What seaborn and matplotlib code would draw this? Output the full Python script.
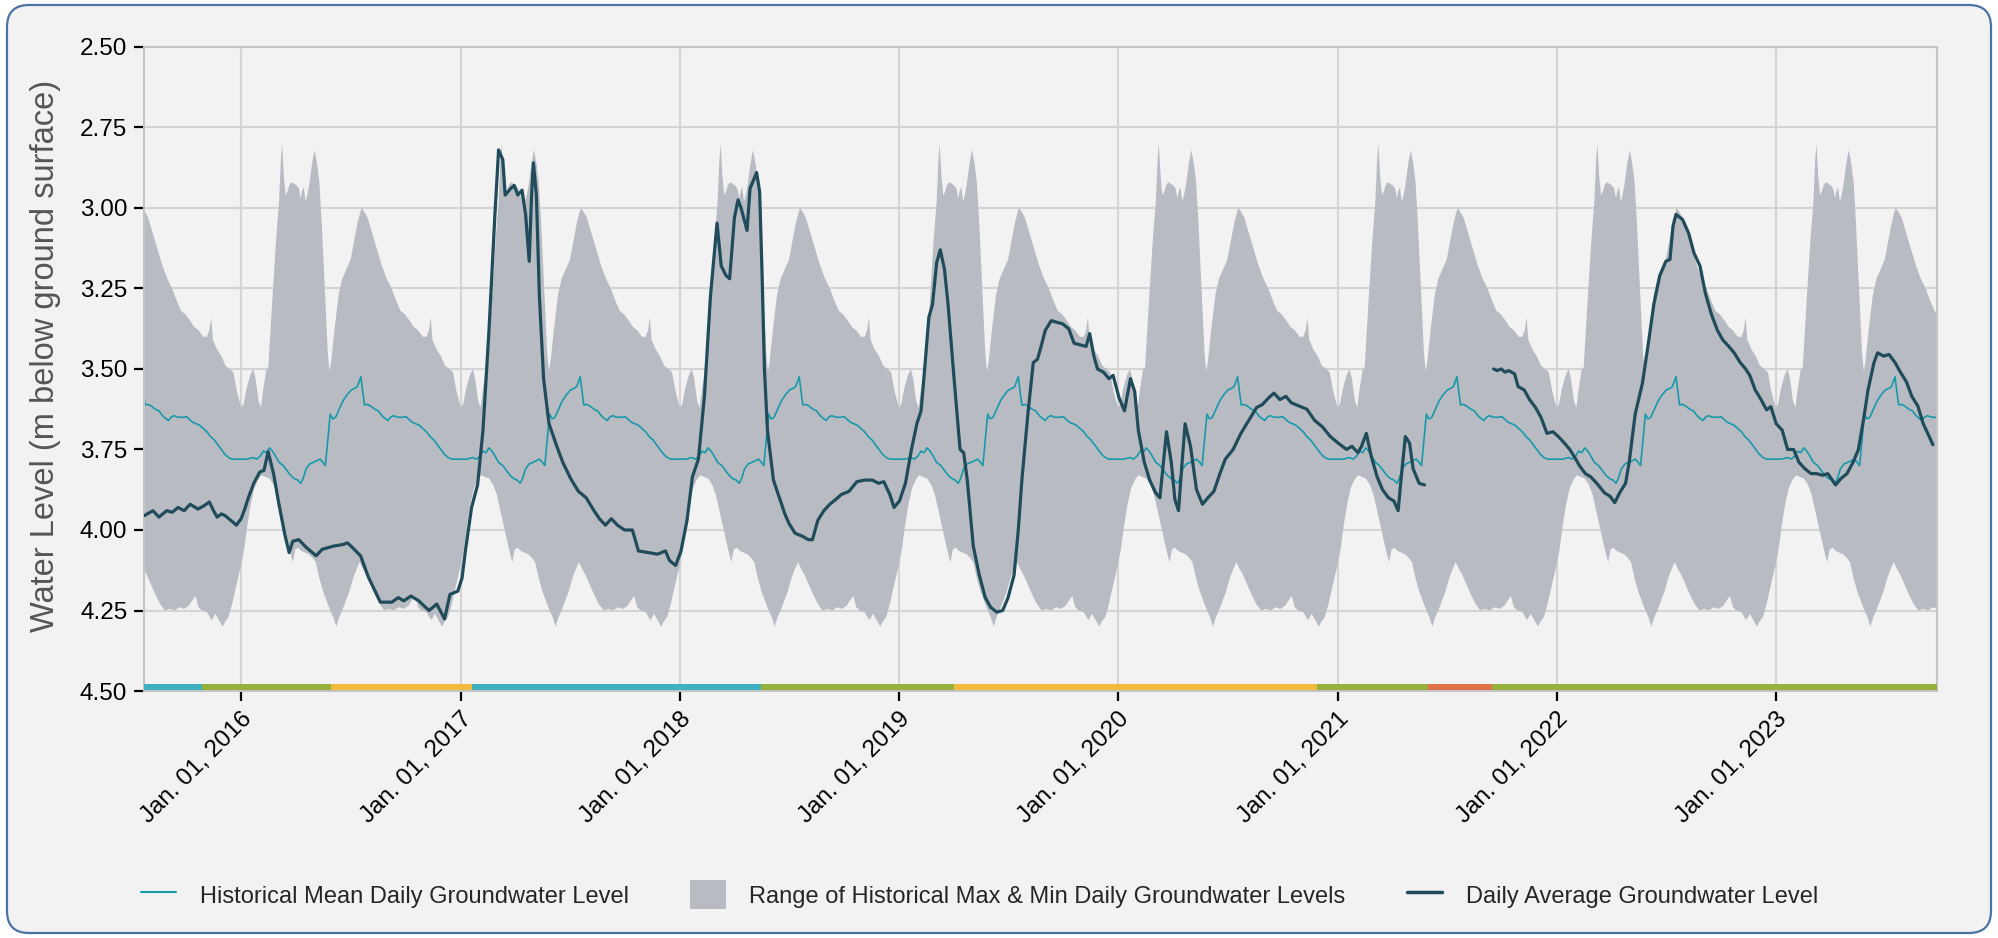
import numpy as np
import pandas as pd
import matplotlib
matplotlib.use("Agg")
import matplotlib.pyplot as plt
import matplotlib.dates as mdates
from matplotlib.patches import FancyBboxPatch, Patch
from matplotlib.lines import Line2D
import seaborn as sns

# historical statistics by day of year (repeated every year)
band_top_doy = [0, 4, 9, 15, 20, 24, 29, 33, 37, 42, 45, 52, 58, 63, 66, 68, 71, 74, 77, 80, 84, 88,
                92, 96, 99, 101, 104, 107, 110, 113, 118, 122, 126, 130, 134, 139, 144, 147, 150, 155,
                162, 168, 175, 182, 188, 193, 197, 200, 204, 210, 218, 226, 234, 242, 250, 258, 265,
                272, 280, 287, 294, 302, 308, 312, 315, 318, 325, 332, 339, 346, 352, 358, 365]
band_top = [3.62, 3.61, 3.56, 3.52, 3.50, 3.53, 3.60, 3.62, 3.56, 3.50, 3.50, 3.28, 3.10, 2.98, 2.85,
            2.80, 2.90, 2.96, 2.95, 2.93, 2.92, 2.925, 2.93, 2.94, 2.97, 2.95, 2.935, 2.98, 2.96, 2.93,
            2.86, 2.82, 2.86, 2.92, 3.05, 3.25, 3.45, 3.51, 3.47, 3.38, 3.27, 3.22, 3.19, 3.16, 3.10,
            3.05, 3.02, 3.00, 3.01, 3.03, 3.08, 3.13, 3.18, 3.22, 3.25, 3.29, 3.32, 3.33, 3.35, 3.37,
            3.38, 3.40, 3.40, 3.38, 3.34, 3.41, 3.44, 3.46, 3.49, 3.50, 3.51, 3.57, 3.62]
band_bottom_doy = [0, 5, 10, 16, 22, 28, 34, 40, 47, 54, 60, 66, 72, 78, 83, 86, 90, 95, 100, 106, 112,
                   118, 124, 130, 136, 142, 148, 153, 158, 163, 168, 174, 180, 186, 192, 197, 202, 208,
                   215, 222, 230, 238, 246, 254, 262, 270, 278, 285, 289, 294, 300, 308, 316, 322, 328,
                   334, 338, 344, 350, 356, 361, 365]
band_bottom = [4.11, 4.06, 3.99, 3.92, 3.87, 3.845, 3.83, 3.835, 3.84, 3.86, 3.89, 3.94, 3.99, 4.04,
               4.08, 4.10, 4.06, 4.055, 4.065, 4.07, 4.075, 4.085, 4.10, 4.15, 4.19, 4.22, 4.25, 4.27,
               4.30, 4.27, 4.25, 4.22, 4.19, 4.15, 4.12, 4.10, 4.12, 4.14, 4.17, 4.20, 4.23, 4.25,
               4.245, 4.25, 4.24, 4.245, 4.235, 4.215, 4.205, 4.24, 4.25, 4.255, 4.28, 4.26, 4.28,
               4.30, 4.285, 4.27, 4.23, 4.18, 4.14, 4.11]
mean_doy = [0, 10, 20, 26, 32, 37, 42, 47, 52, 57, 63, 70, 76, 82, 88, 94, 99, 103, 108, 114, 120, 126,
            131, 136, 140, 144, 148, 152, 157, 163, 169, 176, 183, 189, 193, 196, 199, 202, 205, 210,
            215, 222, 228, 234, 240, 244, 248, 253, 260, 268, 274, 278, 284, 290, 296, 302, 308, 314,
            320, 326, 332, 338, 344, 350, 357, 365]
mean_level = [3.78, 3.78, 3.775, 3.78, 3.77, 3.755, 3.76, 3.745, 3.755, 3.77, 3.79, 3.80, 3.815, 3.83,
              3.84, 3.845, 3.855, 3.84, 3.81, 3.795, 3.79, 3.785, 3.78, 3.79, 3.80, 3.72, 3.64, 3.655,
              3.65, 3.625, 3.60, 3.58, 3.565, 3.56, 3.555, 3.54, 3.524, 3.57, 3.612, 3.61, 3.615,
              3.625, 3.63, 3.645, 3.655, 3.66, 3.65, 3.645, 3.65, 3.65, 3.648, 3.655, 3.665, 3.67,
              3.675, 3.685, 3.695, 3.71, 3.72, 3.735, 3.75, 3.765, 3.775, 3.78, 3.78, 3.78]
clim_years = [2015, 2016, 2017, 2018, 2019, 2020, 2021, 2022, 2023]

# daily average level, days since 2016-01-01 (two runs either side of the 2021 gap)
daily_days_a = [-161, -147, -137, -124, -115, -105, -95, -85, -72, -62, -53, -46, -40, -33, -27, -14,
                -8, 0, 6, 12, 21, 31, 38, 45, 54, 63, 73, 80, 86, 96, 109, 125, 135, 154, 170, 177,
                183, 199, 212, 232, 251, 262, 271, 283, 296, 313, 326, 339, 348, 361, 368, 374, 384,
                394, 403, 413, 423, 429, 436, 440, 449, 455, 461, 468, 474, 480, 484, 487, 492, 497,
                504, 513, 526, 536, 549, 562, 575, 588, 597, 607, 617, 627, 639, 652, 662, 678, 694,
                707, 714, 724, 733, 743, 752, 762, 772, 782, 793, 800, 808, 814, 822, 828, 833, 843,
                848, 859, 864, 868, 872, 877, 887, 897, 906, 913, 923, 936, 945, 952, 961, 971, 981,
                991, 1000, 1013, 1026, 1039, 1052, 1062, 1071, 1081, 1088, 1097, 1107, 1117, 1126,
                1133, 1139, 1146, 1152, 1159, 1165, 1172, 1178, 1188, 1198, 1204, 1210, 1220, 1230,
                1240, 1249, 1259, 1269, 1278, 1288, 1295, 1301, 1311, 1320, 1327, 1333, 1340, 1350,
                1359, 1369, 1379, 1388, 1398, 1408, 1414, 1421, 1427, 1437, 1446, 1453, 1463, 1472,
                1482, 1489, 1495, 1505, 1514, 1524, 1531, 1537, 1542, 1550, 1556, 1562, 1568, 1573,
                1582, 1592, 1602, 1611, 1621, 1631, 1640, 1653, 1666, 1679, 1692, 1702, 1712, 1721,
                1731, 1741, 1750, 1763, 1776, 1789, 1802, 1815, 1828, 1842, 1851, 1861, 1867, 1875,
                1883, 1893, 1902, 1912, 1921, 1928, 1934, 1940, 1947, 1953, 1963, 1972]
daily_level_a = [3.955, 3.94, 3.96, 3.94, 3.945, 3.93, 3.94, 3.92, 3.935, 3.925, 3.913, 3.94, 3.96,
                 3.95, 3.955, 3.975, 3.985, 3.965, 3.935, 3.90, 3.855, 3.82, 3.815, 3.757, 3.825,
                 3.92, 4.016, 4.07, 4.035, 4.03, 4.055, 4.08, 4.06, 4.05, 4.045, 4.04, 4.05, 4.08,
                 4.146, 4.224, 4.224, 4.21, 4.22, 4.205, 4.22, 4.25, 4.23, 4.276, 4.20, 4.19, 4.15,
                 4.06, 3.93, 3.86, 3.69, 3.38, 3.016, 2.82, 2.85, 2.96, 2.94, 2.93, 2.96, 2.945, 3.02,
                 3.166, 2.96, 2.86, 2.96, 3.275, 3.53, 3.67, 3.74, 3.79, 3.84, 3.88, 3.90, 3.94,
                 3.965, 3.985, 3.965, 3.985, 4.00, 4.00, 4.065, 4.07, 4.075, 4.065, 4.095, 4.11,
                 4.065, 3.97, 3.835, 3.78, 3.585, 3.275, 3.047, 3.18, 3.21, 3.22, 3.03, 2.975, 3.00,
                 3.07, 2.94, 2.89, 2.95, 3.20, 3.50, 3.69, 3.845, 3.90, 3.95, 3.98, 4.01, 4.02, 4.03,
                 4.03, 3.97, 3.94, 3.92, 3.905, 3.89, 3.88, 3.85, 3.845, 3.845, 3.855, 3.85, 3.89,
                 3.93, 3.91, 3.855, 3.75, 3.67, 3.63, 3.50, 3.34, 3.30, 3.17, 3.13, 3.19, 3.30, 3.53,
                 3.75, 3.76, 3.845, 4.05, 4.14, 4.21, 4.24, 4.255, 4.25, 4.21, 4.14, 4.00, 3.845,
                 3.64, 3.48, 3.47, 3.43, 3.38, 3.35, 3.355, 3.36, 3.375, 3.42, 3.425, 3.43, 3.39,
                 3.46, 3.50, 3.51, 3.53, 3.52, 3.59, 3.63, 3.53, 3.57, 3.69, 3.79, 3.845, 3.885, 3.90,
                 3.79, 3.695, 3.79, 3.905, 3.94, 3.79, 3.67, 3.74, 3.875, 3.92, 3.90, 3.88, 3.825,
                 3.78, 3.75, 3.70, 3.66, 3.62, 3.61, 3.59, 3.575, 3.595, 3.585, 3.605, 3.615, 3.625,
                 3.66, 3.68, 3.71, 3.73, 3.75, 3.74, 3.76, 3.74, 3.70, 3.77, 3.835, 3.875, 3.90, 3.91,
                 3.94, 3.82, 3.71, 3.73, 3.81, 3.855, 3.86]
daily_days_b = [2087, 2093, 2100, 2106, 2112, 2122, 2128, 2138, 2147, 2157, 2166, 2176, 2186, 2195,
                2205, 2214, 2224, 2230, 2240, 2249, 2259, 2272, 2281, 2289, 2297, 2307, 2313, 2323,
                2335, 2345, 2354, 2364, 2374, 2381, 2386, 2391, 2402, 2412, 2421, 2431, 2440, 2450,
                2460, 2469, 2479, 2488, 2498, 2507, 2514, 2523, 2533, 2542, 2549, 2558, 2568, 2577,
                2587, 2596, 2606, 2616, 2625, 2635, 2644, 2657, 2666, 2676, 2686, 2695, 2705, 2711,
                2721, 2727, 2737, 2746, 2756, 2765, 2775, 2784, 2794, 2803, 2813, 2819]
daily_level_b = [3.50, 3.505, 3.50, 3.51, 3.505, 3.515, 3.555, 3.565, 3.595, 3.62, 3.65, 3.70, 3.695,
                 3.71, 3.73, 3.75, 3.78, 3.80, 3.825, 3.835, 3.855, 3.885, 3.895, 3.915, 3.885,
                 3.855, 3.79, 3.64, 3.545, 3.42, 3.30, 3.21, 3.166, 3.16, 3.057, 3.02, 3.036, 3.078,
                 3.14, 3.18, 3.265, 3.33, 3.38, 3.41, 3.43, 3.45, 3.48, 3.50, 3.52, 3.565, 3.596,
                 3.627, 3.617, 3.67, 3.69, 3.75, 3.75, 3.79, 3.81, 3.825, 3.825, 3.83, 3.825, 3.86,
                 3.84, 3.825, 3.79, 3.75, 3.64, 3.565, 3.48, 3.45, 3.46, 3.455, 3.48, 3.51, 3.54,
                 3.585, 3.615, 3.67, 3.71, 3.735]

# status strip along the bottom of the plot
status_edges = ['2015-07-23', '2015-10-28', '2016-05-29', '2017-01-19', '2018-05-16', '2019-04-03',
                '2020-11-28', '2021-06-01', '2021-09-15', '2023-09-27']
status_class = ['above', 'normal', 'below', 'above', 'normal', 'below', 'normal', 'low', 'normal']

x_start, x_end = '2015-07-23', '2023-09-27'
y_ticks = [2.50, 2.75, 3.00, 3.25, 3.50, 3.75, 4.00, 4.25, 4.50]

status_colors = {'above': '#3fb0bf', 'normal': '#96b23c', 'below': '#f2bb3f', 'low': '#e07048'}
band_color = '#b8bcc2'
mean_color = '#1899ab'
daily_color = '#1f4b5b'
bg = '#f2f2f2'


def tile_years(doy, vals):
    xs, ys = [], []
    for yr in clim_years:
        start = pd.Timestamp(yr, 1, 1)
        span = (pd.Timestamp(yr + 1, 1, 1) - start).days
        xs.extend(start + pd.to_timedelta(np.asarray(doy, float) * span / 365, unit='D'))
        ys.extend(vals)
    return pd.DatetimeIndex(xs), np.asarray(ys)


top_x, top_y = tile_years(band_top_doy, band_top)
bot_x, bot_y = tile_years(band_bottom_doy, band_bottom)
mean_x, mean_y = tile_years(mean_doy, mean_level)
mean_df = pd.DataFrame({'date': mean_x, 'level': mean_y})

origin = pd.Timestamp('2016-01-01')
daily_df = pd.concat([
    pd.DataFrame({'date': origin + pd.to_timedelta(daily_days_a, unit='D'), 'level': daily_level_a, 'run': 0}),
    pd.DataFrame({'date': origin + pd.to_timedelta(daily_days_b, unit='D'), 'level': daily_level_b, 'run': 1}),
])

sns.set_style('whitegrid', {'axes.facecolor': bg, 'grid.color': '#d4d4d4', 'axes.edgecolor': '#c4c4c4'})
plt.rcParams['font.family'] = ['Liberation Sans', 'DejaVu Sans']

fig = plt.figure(figsize=(19.99, 9.38), dpi=100, facecolor='white')
fig.patches.append(FancyBboxPatch((0.07, 0.05), 19.84, 9.28, boxstyle='round,pad=0,rounding_size=0.22',
                                  transform=fig.dpi_scale_trans, facecolor=bg, edgecolor='#4a74a4',
                                  linewidth=1.6, zorder=-5))
ax = fig.add_axes([0.072, 0.2633, 0.897, 0.6867])
ax.set_facecolor(bg)

# historical range polygon (top edge forward, bottom edge back)
poly_x = np.concatenate([mdates.date2num(top_x), mdates.date2num(bot_x)[::-1]])
poly_y = np.concatenate([top_y, bot_y[::-1]])
ax.fill(poly_x, poly_y, color=band_color, linewidth=0, zorder=1)

sns.lineplot(data=mean_df, x='date', y='level', ax=ax, color=mean_color, linewidth=1.2,
             estimator=None, legend=False, zorder=2)
sns.lineplot(data=daily_df, x='date', y='level', units='run', ax=ax, color=daily_color, linewidth=2.3,
             estimator=None, legend=False, zorder=3)

edges = mdates.date2num(pd.to_datetime(status_edges))
for i, cls in enumerate(status_class):
    ax.broken_barh([(edges[i], edges[i + 1] - edges[i])], (4.477, 0.021),
                   facecolor=status_colors[cls], edgecolor='none', zorder=4)

ax.set_xlim(pd.Timestamp(x_start), pd.Timestamp(x_end))
ax.set_ylim(4.5, 2.5)
ax.set_yticks(y_ticks)
ax.yaxis.set_major_formatter(matplotlib.ticker.FormatStrFormatter('%.2f'))
ax.xaxis.set_major_locator(mdates.YearLocator())
ax.xaxis.set_major_formatter(mdates.DateFormatter('%b. %d, %Y'))
ax.grid(True, linewidth=1.5)
ax.set_axisbelow(True)
for s in ax.spines.values():
    s.set_color('#c4c4c4')
    s.set_linewidth(1.5)

ax.tick_params(axis='both', which='major', bottom=True, left=True, length=7, width=1.6,
               color='black', labelsize=17.5, labelcolor='black', pad=5)
plt.setp(ax.get_xticklabels(), rotation=45, ha='right', rotation_mode='anchor')
ax.set_xlabel('')
ax.set_ylabel('Water Level (m below ground surface)', fontsize=23.5, color='#555555')
ax.yaxis.set_label_coords(-0.046, 0.52)

handles = [Line2D([], [], color=mean_color, linewidth=1.5),
           Patch(facecolor=band_color, edgecolor='none'),
           Line2D([], [], color=daily_color, linewidth=2.5)]
labels = ['Historical Mean Daily Groundwater Level',
          'Range of Historical Max & Min Daily Groundwater Levels',
          'Daily Average Groundwater Level']
fig.legend(handles, labels, loc='center', bbox_to_anchor=(0.49, 0.046), ncol=3, frameon=False,
           fontsize=17, handlelength=1.5, handleheight=1.5, handletextpad=1.0, columnspacing=2.6)

fig.savefig('out.png', dpi=100, facecolor='white')
